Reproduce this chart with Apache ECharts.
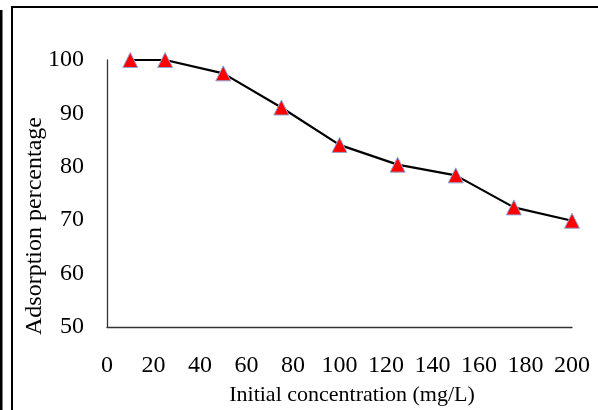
<!DOCTYPE html>
<html>
<head>
<meta charset="utf-8">
<script src="https://cdn.jsdelivr.net/npm/echarts@6/dist/echarts.min.js"></script>
<style>html,body{margin:0;padding:0;background:#fff}#c{width:598px;height:410px}</style>
</head>
<body>
<div id="c"></div>
<script>
const concentrations = [10, 25, 50, 75, 100, 125, 150, 175, 200];
const adsorption = [100, 100, 97.5, 91.1, 84.1, 80.4, 78.4, 72.4, 69.9];
const xTicks = [0, 20, 40, 60, 80, 100, 120, 140, 160, 180, 200];
const yTicks = [50, 60, 70, 80, 90, 100];
const xTitle = 'Initial concentration (mg/L)';
const yTitle = 'Adsorption percentage';

const chart = echarts.init(document.getElementById('c'), null, {renderer: 'canvas'});
const font = '"Liberation Serif", "Times New Roman", serif';
chart.setOption({
  animation: false,
  backgroundColor: '#fff',
  grid: {left: 107, right: 26, top: 60, bottom: 83, containLabel: false},
  xAxis: {
    type: 'value', min: xTicks[0], max: xTicks[xTicks.length - 1], interval: 20,
    axisLine: {show: true, lineStyle: {color: '#333', width: 1.3}},
    axisTick: {show: false},
    splitLine: {show: false},
    axisLabel: {fontFamily: font, fontSize: 24, color: '#000', margin: 27}
  },
  yAxis: {
    type: 'value', min: yTicks[0], max: yTicks[yTicks.length - 1], interval: 10,
    axisLine: {show: true, lineStyle: {color: '#333', width: 1.3}},
    axisTick: {show: false},
    splitLine: {show: false},
    axisLabel: {fontFamily: font, fontSize: 24, color: '#000', margin: 23}
  },
  series: [{
    type: 'line',
    data: concentrations.map((c, i) => [c, adsorption[i]]),
    symbol: 'triangle', symbolSize: 15,
    lineStyle: {color: '#000', width: 2.2},
    itemStyle: {color: '#ff0000', borderColor: '#8fa8d8', borderWidth: 1}
  }],
  graphic: [
    {type: 'rect', shape: {x: 0, y: 10, width: 2.5, height: 400}, style: {fill: '#000'}},
    {type: 'rect', shape: {x: 11, y: 6, width: 2, height: 404}, style: {fill: '#000'}},
    {type: 'rect', shape: {x: 11, y: 6, width: 587, height: 2}, style: {fill: '#000'}},
    {type: 'text', x: 352, y: 395, style: {text: xTitle, font: '22px ' + font, fill: '#000', align: 'center', verticalAlign: 'middle'}},
    {type: 'text', x: 35, y: 226, rotation: Math.PI / 2, style: {text: yTitle, font: '24px ' + font, fill: '#000', align: 'center', verticalAlign: 'middle'}}
  ]
});
</script>
</body>
</html>
